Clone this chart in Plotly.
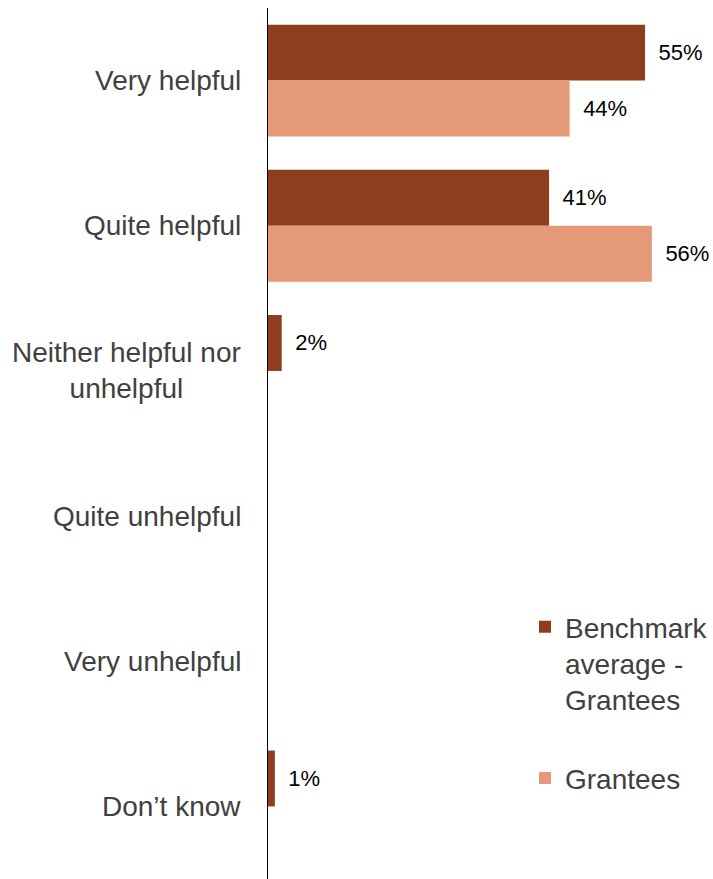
import plotly.graph_objects as go

categories = ["Very helpful", "Quite helpful", "Neither helpful nor<br>unhelpful",
              "Quite unhelpful", "Very unhelpful", "Don’t know"]
benchmark = [55, 41, 2, None, None, 1]
grantees = [44, 56, None, None, None, None]
series_names = ["Benchmark<br>average -<br>Grantees", "Grantees"]
colors = ["#8E3D1E", "#E49A78"]

FONT = "Liberation Sans, Arial, sans-serif"

fig = go.Figure()
for name, vals, col, grp in [(series_names[0], benchmark, colors[0], "a"),
                             (series_names[1], grantees, colors[1], "b")]:
    fig.add_trace(go.Bar(
        y=categories, x=vals, name=name, orientation="h",
        marker=dict(color=col, line=dict(width=0)),
        texttemplate="\u00a0\u2009%{x}%", textposition="outside",
        textfont=dict(size=22, color="#000000", family=FONT),
        cliponaxis=False, legendgroup=grp,
    ))

for c in categories:
    fig.add_annotation(
        x=0, xref="paper", xshift=-25, y=c, yref="y",
        text=c, showarrow=False, xanchor="right", yanchor="middle",
        align="center", font=dict(size=28, color="#404040", family=FONT),
    )

fig.update_layout(
    width=713, height=879,
    margin=dict(l=268, r=14, t=8, b=0),
    paper_bgcolor="white", plot_bgcolor="white",
    barmode="group", bargap=0.23, bargroupgap=0,
    font=dict(family=FONT),
    showlegend=True,
    legend=dict(
        x=0.605, xanchor="left", y=0.318, yanchor="top",
        font=dict(size=28, color="#404040", family=FONT),
        valign="top", tracegroupgap=39, traceorder="grouped",
        bgcolor="rgba(0,0,0,0)", borderwidth=0,
    ),
    xaxis=dict(range=[0, 62], visible=False, fixedrange=True),
    yaxis=dict(
        categoryorder="array", categoryarray=categories,
        autorange="reversed", showticklabels=False, ticks="",
        showgrid=False, zeroline=False, fixedrange=True,
        showline=True, linecolor="#000000", linewidth=1,
    ),
)

fig.write_html("out.html", config={"displayModeBar": False},
               post_script="document.body.style.margin='0';")
